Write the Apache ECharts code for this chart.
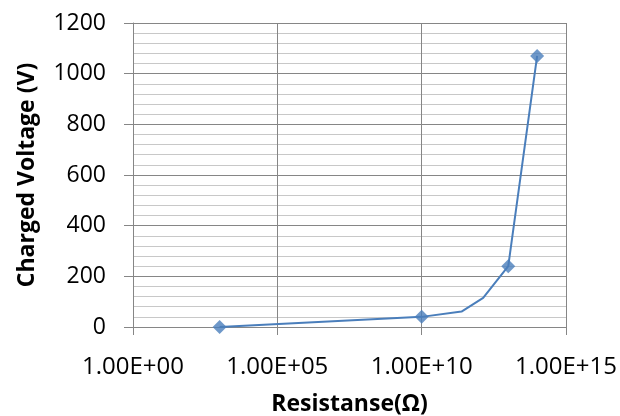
<!DOCTYPE html>
<html><head><meta charset="utf-8">
<script src="https://cdn.jsdelivr.net/npm/echarts@6/dist/echarts.min.js"></script>
<style>html,body{margin:0;padding:0;background:#fff}#c{width:620px;height:416px}</style>
</head><body><div id="c"></div>
<script>
// Line path points (resistance in ohms, charged voltage in V)
var lineResistance = [1e3, 1e10, 2.4e11, 1.35e12, 1e13, 1e14];
var lineVoltage    = [0,   40,   61,     115,     240,  1070];
// Marked measurement points
var markerResistance = [1e3, 1e10, 1e13, 1e14];
var markerVoltage    = [0,   40,   240,  1070];
// Axis labels
var xTitle = 'Resistanse(\u03A9)';
var yTitle = 'Charged Voltage (V)';

var lineData = lineResistance.map(function(r,i){return [r, lineVoltage[i]];});
var markerData = markerResistance.map(function(r,i){return [r, markerVoltage[i]];});
var font = '"Open Sans", sans-serif';
var chart = echarts.init(document.getElementById('c'), null, {renderer:'canvas'});
chart.setOption({
  animation:false,
  grid:{left:133, right:54, top:23, bottom:89, containLabel:false, outerBoundsMode:'none'},
  xAxis:{
    type:'log', logBase:10, min:1, max:1e15, interval:5,
    name:xTitle, nameLocation:'middle', nameGap:66,
    nameTextStyle:{fontFamily:font, fontWeight:'bold', fontSize:23, color:'#000'},
    axisLine:{show:true, lineStyle:{color:'#868686', width:1}},
    axisTick:{show:true, length:8, lineStyle:{color:'#868686'}},
    axisLabel:{fontFamily:font, fontSize:24, color:'#000', margin:28,
      formatter:function(v){var e=Math.round(Math.log10(v)); return '1.00E+'+(e<10?'0'+e:e);}},
    splitLine:{show:true, lineStyle:{color:'#868686', width:1}},
    minorTick:{show:false}, minorSplitLine:{show:false}
  },
  yAxis:{
    type:'value', min:0, max:1200, interval:200,
    name:yTitle, nameLocation:'middle', nameGap:94, nameRotate:90,
    nameTextStyle:{fontFamily:font, fontWeight:'bold', fontSize:23, color:'#000'},
    axisLine:{show:true, lineStyle:{color:'#868686', width:1}},
    axisTick:{show:true, length:9, lineStyle:{color:'#868686'}},
    axisLabel:{fontFamily:font, fontSize:23, color:'#000', margin:27,
      formatter:function(v){return String(v);}},
    splitLine:{show:true, lineStyle:{color:'#868686', width:1}},
    minorTick:{show:false, splitNumber:5},
    minorSplitLine:{show:true, lineStyle:{color:'#c8c8c8', width:1}}
  },
  series:[
    {type:'line', data:lineData, showSymbol:false, symbol:'none',
     lineStyle:{color:'#4a7ebb', width:2}, z:2},
    {type:'scatter', data:markerData, symbol:'diamond', symbolSize:14,
     itemStyle:{color:'#4a7ebb'}, z:3}
  ]
});
</script></body></html>
